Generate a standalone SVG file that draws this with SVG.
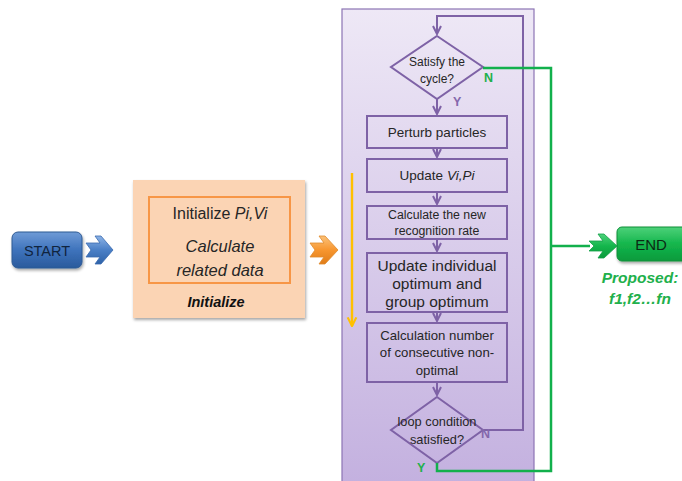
<svg xmlns="http://www.w3.org/2000/svg" width="682" height="481" viewBox="0 0 682 481">
  <defs>
    <linearGradient id="panelGrad" x1="0" y1="0" x2="0" y2="1">
      <stop offset="0" stop-color="#EEE8F6"/>
      <stop offset="1" stop-color="#C3B0DF"/>
    </linearGradient>
    <linearGradient id="blueGrad" x1="0" y1="0" x2="0" y2="1">
      <stop offset="0" stop-color="#6F9BD6"/>
      <stop offset="0.5" stop-color="#3E73BC"/>
      <stop offset="1" stop-color="#2A5A9C"/>
    </linearGradient>
    <linearGradient id="greenGrad" x1="0" y1="0" x2="0" y2="1">
      <stop offset="0" stop-color="#4DD17A"/>
      <stop offset="0.5" stop-color="#14B64C"/>
      <stop offset="1" stop-color="#0A9A3C"/>
    </linearGradient>
    <linearGradient id="orangeGrad" x1="0" y1="0" x2="0" y2="1">
      <stop offset="0" stop-color="#FBC27A"/>
      <stop offset="0.5" stop-color="#F7962F"/>
      <stop offset="1" stop-color="#E07C18"/>
    </linearGradient>
    <linearGradient id="blueArrowGrad" x1="0" y1="0" x2="0" y2="1">
      <stop offset="0" stop-color="#8CB3E6"/>
      <stop offset="0.5" stop-color="#4A7FC6"/>
      <stop offset="1" stop-color="#2E62A8"/>
    </linearGradient>
    <filter id="shadow" x="-10%" y="-10%" width="130%" height="140%">
      <feGaussianBlur in="SourceAlpha" stdDeviation="1.5"/>
      <feOffset dx="1" dy="2" result="b"/>
      <feComponentTransfer><feFuncA type="linear" slope="0.35"/></feComponentTransfer>
      <feMerge><feMergeNode/><feMergeNode in="SourceGraphic"/></feMerge>
    </filter>
    <marker id="pArrow" viewBox="0 0 10 10" refX="9" refY="5" markerWidth="5" markerHeight="5" orient="auto">
      <path d="M1,1 L9,5 L1,9" fill="none" stroke="#7E62A6" stroke-width="2"/>
    </marker>
    <marker id="yArrow" viewBox="0 0 10 10" refX="9" refY="5" markerWidth="4.5" markerHeight="5" orient="auto">
      <path d="M1,1 L9,5 L1,9" fill="none" stroke="#FFC000" stroke-width="2"/>
    </marker>
  </defs>
  <style>
    .box { fill: none; stroke: #7E62A6; stroke-width: 2; }
    .t { font-family: "Liberation Sans", Arial, sans-serif; fill: #262626; text-anchor: middle; }
    .pline { fill: none; stroke: #7E62A6; stroke-width: 2; }
    .gline { fill: none; stroke: #12B04C; stroke-width: 2.5; }
    .glab { font-family: "Liberation Sans", Arial, sans-serif; font-weight: bold; fill: #21B04B; }
    .plab { font-family: "Liberation Sans", Arial, sans-serif; font-weight: bold; fill: #8468AC; }
  </style>

  <rect width="682" height="481" fill="#FFFFFF"/>

  <!-- start terminal -->
  <g id="start">
    <rect x="12" y="232" width="70" height="36" rx="6" fill="url(#blueGrad)" stroke="#2F5A94" stroke-width="1" filter="url(#shadow)"/>
    <text class="t" x="47" y="256" font-size="14.5" style="fill:#10243E">START</text>
  </g>

  <!-- initialize block -->
  <g id="initialize">
    <rect x="133" y="180" width="172" height="138" fill="#FBD4B4" filter="url(#shadow)"/>
    <rect x="149" y="197" width="141" height="86" fill="none" stroke="#F79646" stroke-width="2"/>
    <text class="t" x="220" y="219" font-size="16">Initialize <tspan font-style="italic">Pi,Vi</tspan></text>
    <text class="t" x="220" y="252" font-size="16.5" font-style="italic">Calculate</text>
    <text class="t" x="220" y="276" font-size="16.5" font-style="italic">related data</text>
    <text class="t" x="216" y="307" font-size="14.5" font-style="italic" font-weight="bold" style="fill:#111">Initialize</text>
  </g>

  <!-- loop panel -->
  <g id="panel">
    <rect x="342" y="9" width="192" height="480" fill="url(#panelGrad)" stroke="#8C74B4" stroke-width="1.2"/>
  </g>

  <g id="satisfy">
    <polygon points="437,36 483,67 437,99 391,67" fill="none" stroke="#7E62A6" stroke-width="2"/>
    <text class="t" x="437" y="66" font-size="12">Satisfy the</text>
    <text class="t" x="437" y="83" font-size="12">cycle?</text>
  </g>

  <g id="perturb">
    <rect class="box" x="367" y="116" width="140" height="32"/>
    <text class="t" x="437" y="137" font-size="13.5">Perturb particles</text>
  </g>

  <g id="update-vp">
    <rect class="box" x="367" y="159" width="140" height="33"/>
    <text class="t" x="437" y="180" font-size="13.5">Update <tspan font-style="italic">Vi,Pi</tspan></text>
  </g>

  <g id="recognition">
    <rect class="box" x="367" y="206" width="140" height="33"/>
    <text class="t" x="437" y="219" font-size="12.3">Calculate the new</text>
    <text class="t" x="437" y="235" font-size="12.3">recognition rate</text>
  </g>

  <g id="update-optimum">
    <rect class="box" x="367" y="253" width="140" height="59"/>
    <text class="t" x="437" y="271" font-size="15.5">Update individual</text>
    <text class="t" x="437" y="289" font-size="15.5">optimum and</text>
    <text class="t" x="437" y="307" font-size="15.5">group optimum</text>
  </g>

  <g id="non-optimal">
    <rect class="box" x="367" y="323" width="140" height="59"/>
    <text class="t" x="437" y="340" font-size="13.2">Calculation number</text>
    <text class="t" x="437" y="357" font-size="13.2">of consecutive non-</text>
    <text class="t" x="437" y="375" font-size="13.2">optimal</text>
  </g>

  <g id="loop-check">
    <polygon points="437,397 483,430 437,463 391,430" fill="none" stroke="#7E62A6" stroke-width="2"/>
    <text class="t" x="437" y="426" font-size="12.8">loop condition</text>
    <text class="t" x="437" y="444" font-size="12.8">satisfied?</text>
  </g>

  <!-- end terminal -->
  <g id="end">
    <rect x="617" y="227" width="72" height="34" rx="5" fill="url(#greenGrad)" stroke="#0E8F3A" stroke-width="1" filter="url(#shadow)"/>
    <text class="t" x="651" y="250" font-size="15" style="fill:#0B2A14">END</text>
    <text class="glab" x="640" y="283" font-size="15.5" font-style="italic" text-anchor="middle">Proposed:</text>
    <text class="glab" x="640" y="304" font-size="15.5" font-style="italic" text-anchor="middle">f1,f2…fn</text>
  </g>

  <!-- connectors -->
  <g id="connectors">
    <!-- block arrows between stages -->
    <path d="M86,243 L100,243 L95,236 L101,236 L113,250 L101,264 L95,264 L100,257 L86,257 L91,250 Z" fill="url(#blueArrowGrad)" stroke="#3A6AAE" stroke-width="0.8"/>
    <path d="M310,243 L324,243 L319,236 L325,236 L338,250 L325,264 L319,264 L324,257 L310,257 L315,250 Z" fill="url(#orangeGrad)" stroke="#E08A2C" stroke-width="0.8"/>
    <path d="M589,241 L603,241 L598,234 L604,234 L617,246 L604,258 L598,258 L603,251 L589,251 L594,246 Z" fill="url(#greenGrad)" stroke="#12A046" stroke-width="0.8"/>

    <!-- flow inside the loop -->
    <path class="pline" d="M437,99 L437,114" marker-end="url(#pArrow)"/>
    <path class="pline" d="M437,148 L437,157" marker-end="url(#pArrow)"/>
    <path class="pline" d="M437,192 L437,204" marker-end="url(#pArrow)"/>
    <path class="pline" d="M437,239 L437,251" marker-end="url(#pArrow)"/>
    <path class="pline" d="M437,312 L437,321" marker-end="url(#pArrow)"/>
    <path class="pline" d="M437,382 L437,395" marker-end="url(#pArrow)"/>
    <!-- N branch back to the top -->
    <path class="pline" d="M483,430 L523,430 L523,16 L437,16 L437,34" marker-end="url(#pArrow)"/>

    <!-- progress arrow -->
    <path d="M352,173 L352,326" fill="none" stroke="#FFC000" stroke-width="2.4" marker-end="url(#yArrow)"/>

    <!-- exits to END -->
    <path class="gline" d="M483,68 L551,68 L551,471 L437,471 L437,463"/>
    <path class="gline" d="M551,246 L590,246"/>

    <!-- branch labels -->
    <text class="glab" x="484" y="82" font-size="12.5">N</text>
    <text class="plab" x="453" y="106" font-size="12.5">Y</text>
    <text class="plab" x="481" y="438" font-size="12.5">N</text>
    <text class="glab" x="417" y="472" font-size="12.5">Y</text>
  </g>
</svg>
